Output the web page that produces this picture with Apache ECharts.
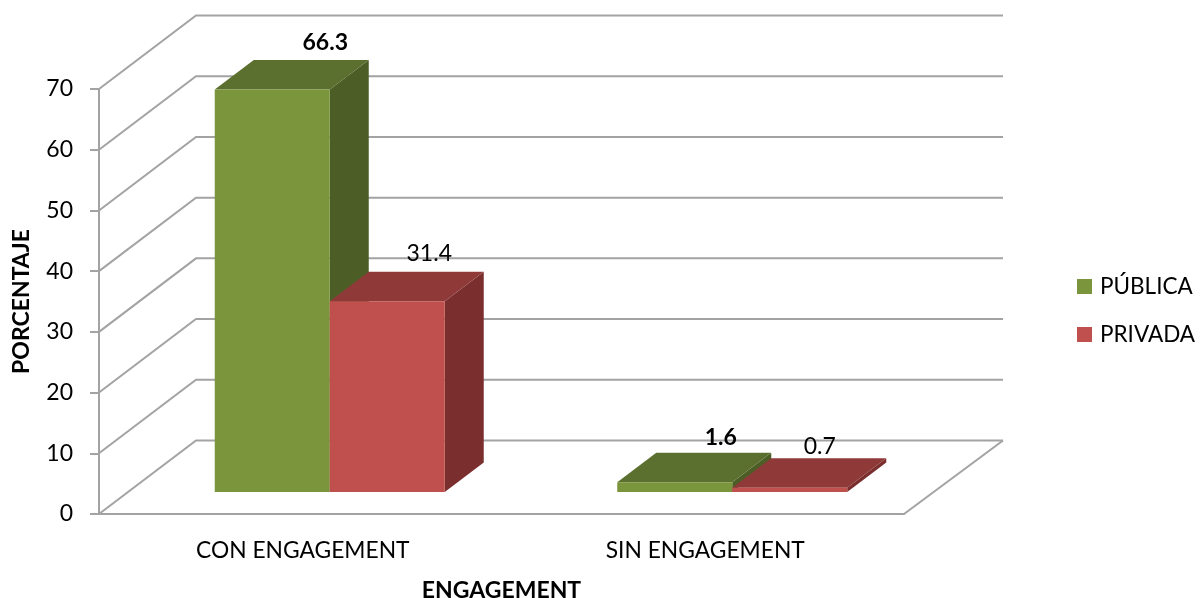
<!DOCTYPE html>
<html><head><meta charset="utf-8">
<style>html,body{margin:0;padding:0;background:#fff}#c{width:1201px;height:598px}</style>
<script src="https://cdn.jsdelivr.net/npm/echarts@6/dist/echarts.min.js"></script>
</head><body><div id="c"></div>
<script>
const categories = ['CON ENGAGEMENT', 'SIN ENGAGEMENT'];
const publica = [66.3, 1.6];
const privada = [31.4, 0.7];
const gridValues = [0, 10, 20, 30, 40, 50, 60, 70];

const FONT = 'Lato';
const LINE = '#A3A3A3';
const wallDX = 97, wallDY = -73.5;
const barW = 115, barBase = 22, depthX = 39, depthY = -29.5;

function wall(params, api) {
  const cs = params.coordSys;
  const v = api.value(0);
  const y = api.coord([0, v])[1];
  const x0 = cs.x, x1 = cs.x + wallDX, xR = cs.x + cs.width + wallDX + 2, yB = y + wallDY;
  const children = [{
    type: 'polyline',
    shape: { points: [[x0, y], [x1, yB], [xR, yB]] },
    style: { stroke: LINE, lineWidth: 2, fill: null }
  }];
  if (v === 0) {
    children.push({
      type: 'line',
      shape: { x1: cs.x + cs.width, y1: y, x2: xR, y2: yB },
      style: { stroke: LINE, lineWidth: 2 }
    });
  }
  return { type: 'group', children };
}

function bar3d(front, top, side, side01, labelOffsets, bold) {
  return function (params, api) {
    const i = api.value(0), v = api.value(1);
    const c = api.coord([i, v]);
    const c0 = api.coord([i, 0]);
    const cx = c[0] + 29.5 + side01 * barW;
    const l = cx - barW, r = cx;
    const b = c0[1] - barBase;
    const tt = b - (c0[1] - c[1]);
    const off = labelOffsets[i];
    return {
      type: 'group',
      children: [
        { type: 'polygon', shape: { points: [[r, tt], [r + depthX, tt + depthY], [r + depthX, b + depthY], [r, b]] }, style: { fill: side } },
        { type: 'polygon', shape: { points: [[l, tt], [l + depthX, tt + depthY], [r + depthX, tt + depthY], [r, tt]] }, style: { fill: top } },
        { type: 'rect', shape: { x: l, y: tt, width: barW, height: b - tt }, style: { fill: front } },
        { type: 'text', x: (l + r) / 2 + off[0], y: tt + off[1], z2: 10, style: {
            text: String(v), fill: '#000', font: (bold ? 'bold ' : '') + '23px ' + FONT, align: 'center', verticalAlign: 'middle' } }
      ]
    };
  };
}

const chart = echarts.init(document.getElementById('c'), null, { renderer: 'canvas' });
chart.setOption({
  animation: false,
  backgroundColor: '#fff',
  textStyle: { fontFamily: FONT },
  grid: { left: 99, top: 89, width: 805, height: 425, containLabel: false, outerBoundsMode: 'none' },
  legend: {
    data: ['PÚBLICA', 'PRIVADA'], orient: 'vertical', left: 1072, top: 270,
    itemWidth: 15, itemHeight: 15, itemGap: 25, icon: 'rect', selectedMode: false,
    textStyle: { fontFamily: FONT, fontSize: 22.5, color: '#000', padding: [0, 0, 0, 3] }
  },
  xAxis: {
    type: 'category', data: categories,
    name: 'ENGAGEMENT', nameLocation: 'middle', nameGap: 65,
    nameTextStyle: { fontFamily: FONT, fontSize: 23, fontWeight: 'bold', color: '#000' },
    axisLine: { show: true, lineStyle: { color: LINE, width: 2 } },
    axisTick: { show: false }, splitLine: { show: false },
    axisLabel: { margin: 25, fontFamily: FONT, fontSize: 22.8, color: '#000', interval: 0, padding: [0, 0, 0, 5] }
  },
  yAxis: {
    type: 'value', min: 0, max: 70, interval: 10,
    name: 'PORCENTAJE', nameLocation: 'middle', nameGap: 66,
    nameTextStyle: { fontFamily: FONT, fontSize: 23, fontWeight: 'bold', color: '#000' },
    axisLine: { show: true, lineStyle: { color: LINE, width: 2 } },
    axisTick: { show: true, length: 9, lineStyle: { color: LINE, width: 2 } },
    splitLine: { show: false },
    axisLabel: { margin: 26, fontFamily: FONT, fontSize: 23, color: '#000', padding: [7, 0, 0, 0] }
  },
  series: [
    { type: 'custom', name: 'wall', silent: true, clip: false, z: 1, renderItem: wall, data: gridValues.map(v => [v]), encode: { y: 0 } },
    { type: 'custom', name: 'PÚBLICA', clip: false, z: 2, itemStyle: { color: '#7A953B' },
      renderItem: bar3d('#7A953B', '#5B6F2E', '#4C5D26', 0, [[53, -47], [46, -45]], true),
      data: publica.map((v, i) => [i, v]), encode: { x: 0, y: 1 } },
    { type: 'custom', name: 'PRIVADA', clip: false, z: 3, itemStyle: { color: '#C0504D' },
      renderItem: bar3d('#C0504D', '#8F3A39', '#7A2F2E', 1, [[42, -48], [30, -41]], false),
      data: privada.map((v, i) => [i, v]), encode: { x: 0, y: 1 } }
  ]
});
</script></body></html>
